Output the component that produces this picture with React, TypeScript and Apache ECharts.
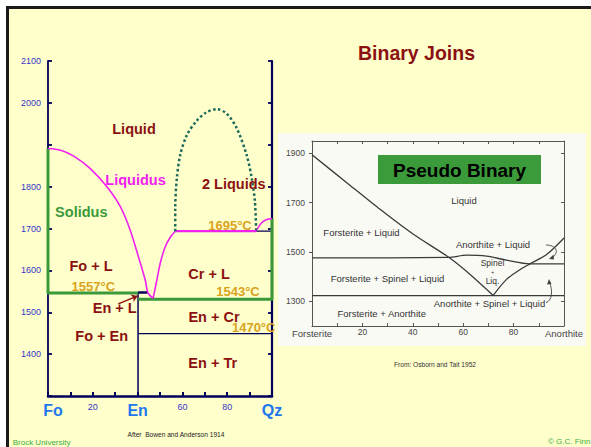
import React, { useEffect, useRef } from "react";
import * as echarts from "echarts";

// ---------- Main diagram: Fo – SiO2 (wt% SiO2, T °C) ----------
const mainXTickLabels: Record<number, string> = { 0: "Fo", 20: "20", 40: "En", 60: "60", 80: "80", 100: "Qz" };
const mainYTickLabels = [1400, 1500, 1600, 1700, 1800, 2000, 2100];

const foLiquidus = [
  [0, 1891], [5.6, 1887], [11.5, 1873], [18.9, 1843], [26.4, 1799], [32.3, 1752],
  [36.7, 1696], [40.4, 1632], [43.4, 1577], [44.6, 1547], [46.9, 1533],
];
const crLiquidusLow = [[46.9, 1533], [48.6, 1577], [50.1, 1617], [52.3, 1656], [54.6, 1679], [56.8, 1693.5]];
const crLiquidusFlat = [[56.8, 1693.5], [92.9, 1693.5]];
const qzLiquidusHigh = [[92.9, 1693.5], [94.5, 1708], [96.1, 1717], [98, 1722], [100, 1724]];
const immiscibilityDome = [
  [56.8, 1693.5], [56.8, 1748], [57.5, 1819], [59.0, 1875], [62.0, 1923], [66.5, 1958],
  [70.9, 1978], [75.4, 1985], [79.8, 1974], [84.3, 1939], [88.7, 1875], [91.0, 1819],
  [92.4, 1763], [92.9, 1696],
];
const solidusUpper = [[0, 1891], [0, 1546], [40.2, 1546]];
const solidusLower = [[40.2, 1531], [100, 1531], [100, 1724]];
const enstatiteLine = [[40.2, 1546], [40.2, 1300]];
const peritecticStep = [[40.2, 1547], [44.5, 1547]];
const tridymiteLine = [[40.2, 1449], [100, 1449]];
const twoLiquidBase = [[92.9, 1693.5], [100, 1693.5]];
const enLArrow = [[31.4, 1520], [40.0, 1539]];

// ---------- Inset: Forsterite – Anorthite (Osborn and Tait 1952) ----------
const insetXTickLabels: Record<number, string> = { 0: "Forsterite", 20: "20", 40: "40", 60: "60", 80: "80", 100: "Anorthite" };
const insetYTickLabels = [1300, 1500, 1700, 1900];
const insetFoLiquidus = [[0, 1894], [13.8, 1781], [27, 1673], [40.2, 1572], [54.1, 1480], [61.4, 1421], [71.9, 1324]];
const insetSpinelBoundary = [[0, 1476], [54.1, 1478], [61.4, 1487], [69.3, 1483], [77.2, 1467], [86.5, 1452], [100, 1452]];
const insetAnLiquidus = [[71.9, 1324], [77.3, 1390], [82.5, 1428], [86.5, 1452], [93.1, 1490], [100, 1557]];
const insetSolidus = [[0, 1323], [100, 1323]];

const NAVY = "#00005a";
const GREEN = "#3a9a3a";
const MAGENTA = "#f020f0";
const DARKRED = "#8b1111";
const GOLD = "#d9a321";
const INK = "#3a3a3a";
const FONT = '"Liberation Sans", Arial, sans-serif';

function lineSeries(data: number[][], xi: number, yi: number, color: string, width: number, extra: any = {}) {
  return {
    type: "line",
    xAxisIndex: xi,
    yAxisIndex: yi,
    data,
    symbol: "none",
    silent: true,
    smooth: extra.smooth ?? false,
    z: extra.z ?? 3,
    lineStyle: { color, width, type: extra.type ?? "solid", cap: "butt", join: "round" },
  };
}

function txt(text: string, x: number, y: number, fill: string, size: number, bold = true, align = "center") {
  return {
    type: "text",
    x,
    y,
    z: 50,
    silent: true,
    style: {
      text,
      fill,
      font: `${bold ? "bold " : ""}${size}px ${FONT}`,
      align,
      verticalAlign: "middle",
    },
  };
}

export default function App() {
  const ref = useRef<HTMLDivElement>(null);
  useEffect(() => {
    if (!ref.current) return;
    const chart = echarts.init(ref.current, undefined, { renderer: "svg" });
    const option: any = {
      animation: false,
      backgroundColor: "#ffffff",
      textStyle: { fontFamily: FONT },
      grid: [
        { left: 48, top: 61, width: 224, height: 335 },
        { left: 312, top: 141, width: 252, height: 185 },
      ],
      xAxis: [
        {
          gridIndex: 0, type: "value", min: 0, max: 100, interval: 10, position: "bottom",
          axisLine: { onZero: false, lineStyle: { color: NAVY, width: 2.5 } },
          axisTick: { inside: true, length: 4, lineStyle: { color: NAVY, width: 2 } },
          splitLine: { show: false },
          axisLabel: {
            margin: 6, showMinLabel: true, showMaxLabel: true,
            formatter: (v: number) => {
              const t = mainXTickLabels[v];
              if (!t) return "";
              if (v === 0) return `{bf|${t}}`;
              return /\d/.test(t) ? `{n|${t}}` : `{b|${t}}`;
            },
            rich: {
              b: { fontSize: 16, fontWeight: "bold", color: "#2277ee", lineHeight: 17, fontFamily: FONT },
              bf: { fontSize: 16, fontWeight: "bold", color: "#2277ee", lineHeight: 17, fontFamily: FONT, padding: [0, 0, 0, 10] },
              n: { fontSize: 9, color: "#3535c8", lineHeight: 9, fontFamily: '"Liberation Sans Narrow", "Liberation Sans", sans-serif' },
            },
          },
        },
        {
          gridIndex: 1, type: "value", min: 0, max: 100, interval: 10, position: "bottom",
          axisLine: { onZero: false, lineStyle: { color: "#555", width: 1 } },
          axisTick: { inside: true, length: 3, lineStyle: { color: "#555", width: 1 } },
          splitLine: { show: false },
          axisLabel: {
            margin: 1, showMinLabel: true, showMaxLabel: true,
            formatter: (v: number) => {
              const t = insetXTickLabels[v];
              if (!t) return "";
              return /\d/.test(t) ? `{n|${t}}` : `{w|${t}}`;
            },
            rich: {
              n: { fontSize: 8.5, color: "#444", lineHeight: 9, fontFamily: FONT },
              w: { fontSize: 9.5, color: "#444", lineHeight: 10, padding: [3, 0, 0, 0], fontFamily: FONT },
            },
          },
        },
        {
          gridIndex: 1, type: "value", min: 0, max: 100, interval: 10, position: "top",
          axisLine: { onZero: false, lineStyle: { color: "#555", width: 1 } },
          axisTick: { inside: true, length: 3, lineStyle: { color: "#555", width: 1 } },
          splitLine: { show: false },
          axisLabel: { show: false },
        },
      ],
      yAxis: [
        {
          gridIndex: 0, type: "value", min: 1300, max: 2100, interval: 100, position: "left",
          axisLine: { onZero: false, lineStyle: { color: NAVY, width: 1.8 } },
          axisTick: { inside: true, length: 4, lineStyle: { color: NAVY, width: 1.8 } },
          splitLine: { show: false },
          axisLabel: {
            margin: 7, showMinLabel: true, showMaxLabel: true,
            color: "#3535c8", fontSize: 9,
            fontFamily: '"Liberation Sans Narrow", "Liberation Sans", sans-serif',
            formatter: (v: number) => (mainYTickLabels.includes(v) ? String(v) : ""),
          },
        },
        {
          gridIndex: 0, type: "value", min: 1300, max: 2100, interval: 100, position: "right",
          axisLine: { onZero: false, lineStyle: { color: NAVY, width: 2.2 } },
          axisTick: { inside: true, length: 4, lineStyle: { color: NAVY, width: 1.8 } },
          splitLine: { show: false },
          axisLabel: { show: false },
        },
        {
          gridIndex: 1, type: "value", min: 1200, max: 1950, interval: 100, position: "left",
          axisLine: { onZero: false, lineStyle: { color: "#555", width: 1 } },
          axisTick: { inside: false, length: 3, customValues: insetYTickLabels, lineStyle: { color: "#555", width: 1 } },
          splitLine: { show: false },
          axisLabel: {
            margin: 7, color: "#444", fontSize: 8.5, customValues: insetYTickLabels,
            formatter: (v: number) => (insetYTickLabels.includes(v) ? String(v) : ""),
          },
        },
        {
          gridIndex: 1, type: "value", min: 1200, max: 1950, interval: 100, position: "right",
          axisLine: { onZero: false, lineStyle: { color: "#555", width: 1 } },
          axisTick: { inside: true, length: 3, customValues: insetYTickLabels, lineStyle: { color: "#555", width: 1 } },
          splitLine: { show: false },
          axisLabel: { show: false },
        },
      ],
      series: [
        lineSeries(enstatiteLine, 0, 0, NAVY, 1.5),
        lineSeries(tridymiteLine, 0, 0, NAVY, 1.2),
        lineSeries(twoLiquidBase, 0, 0, NAVY, 1.2),
        lineSeries(peritecticStep, 0, 0, NAVY, 2.5),
        lineSeries(solidusUpper, 0, 0, GREEN, 3),
        lineSeries(solidusLower, 0, 0, GREEN, 3),
        lineSeries(foLiquidus, 0, 0, MAGENTA, 1.6, { smooth: 0.3, z: 4 }),
        lineSeries(crLiquidusLow, 0, 0, MAGENTA, 1.6, { smooth: 0.3, z: 4 }),
        lineSeries(crLiquidusFlat, 0, 0, MAGENTA, 2.2, { z: 4 }),
        lineSeries(qzLiquidusHigh, 0, 0, MAGENTA, 1.6, { smooth: 0.3, z: 4 }),
        lineSeries(immiscibilityDome, 0, 0, "#1d6b5a", 2.5, { smooth: 0.3, type: "dotted", z: 4 }),
        {
          type: "lines",
          coordinateSystem: "cartesian2d",
          xAxisIndex: 0,
          yAxisIndex: 0,
          silent: true,
          z: 5,
          symbol: ["none", "arrow"],
          symbolSize: 6,
          lineStyle: { color: DARKRED, width: 1.5, opacity: 1 },
          data: [{ coords: enLArrow }],
        },
        lineSeries(insetFoLiquidus, 1, 2, INK, 1.3, { smooth: 0.2 }),
        lineSeries(insetSpinelBoundary, 1, 2, INK, 1.3, { smooth: 0.3 }),
        lineSeries(insetAnLiquidus, 1, 2, INK, 1.3, { smooth: 0.3 }),
        lineSeries(insetSolidus, 1, 2, INK, 1.3),
      ],
      graphic: [
        { type: "rect", z: -20, silent: true, shape: { x: 6, y: 6, width: 585, height: 441 }, style: { fill: "#ffffcc" } },
        { type: "rect", z: -19, silent: true, shape: { x: 6, y: 6, width: 585, height: 3 }, style: { fill: "#1a1a1a" } },
        { type: "rect", z: -19, silent: true, shape: { x: 6, y: 6, width: 3, height: 441 }, style: { fill: "#1a1a1a" } },
        { type: "rect", z: -18, silent: true, shape: { x: 278, y: 133, width: 308, height: 213 }, style: { fill: "#fafaf5" } },
        { type: "rect", z: 40, silent: true, shape: { x: 378, y: 155, width: 163, height: 29 }, style: { fill: "#3b9b3b" } },
        txt("Pseudo Binary", 459.5, 170, "#000000", 19),
        txt("Binary Joins", 416.5, 53, "#8b1111", 19.5),
        // main diagram labels
        txt("Liquid", 134, 128.5, DARKRED, 14.5),
        txt("Liquidus", 135.5, 180, MAGENTA, 14.5),
        txt("2 Liquids", 233.8, 184.3, DARKRED, 14.5),
        txt("Solidus", 81.3, 211.7, GREEN, 14.5),
        txt("1695°C", 230, 225, GOLD, 13),
        txt("Fo + L", 91, 266, DARKRED, 14.5),
        txt("1557°C", 93.3, 286.7, GOLD, 13),
        txt("Cr + L", 209, 274, DARKRED, 14.5),
        txt("1543°C", 238, 291.7, GOLD, 13),
        txt("En + L", 114.7, 308.3, DARKRED, 14.5),
        txt("Fo + En", 101.7, 336, DARKRED, 14.5),
        txt("En + Cr", 214, 317.3, DARKRED, 14.5),
        txt("1470°C", 253.7, 327.3, GOLD, 13),
        txt("En + Tr", 212.7, 363.3, DARKRED, 14.5),
        // inset labels
        txt("Liquid", 464, 200, "#333", 9.5, false),
        txt("Forsterite + Liquid", 361.5, 232.7, "#333", 9.5, false),
        txt("Anorthite + Liquid", 493, 244.3, "#333", 9.5, false),
        txt("Spinel", 492.5, 263.3, "#333", 8.5, false),
        txt("+", 492.5, 272, "#333", 5.5, false),
        txt("Liq.", 492.5, 280.7, "#333", 8.5, false),
        txt("Forsterite + Spinel + Liquid", 387.5, 278, "#333", 9.5, false),
        txt("Anorthite + Spinel + Liquid", 489.5, 303.3, "#333", 9.5, false),
        txt("Forsterite + Anorthite", 381.7, 313.3, "#333", 9.5, false),
        { type: "bezierCurve", z: 45, silent: true, shape: { x1: 546, y1: 245, x2: 552, y2: 258, cpx1: 556, cpy1: 245, cpx2: 560, cpy2: 252 }, style: { stroke: "#444", lineWidth: 0.9, fill: null } },
        { type: "polygon", z: 45, silent: true, shape: { points: [[549, 259], [553.5, 254.5], [554, 259.5]] }, style: { fill: "#444" } },
        { type: "bezierCurve", z: 45, silent: true, shape: { x1: 546, y1: 302.5, x2: 549.5, y2: 282, cpx1: 552, cpy1: 301, cpx2: 553, cpy2: 291 }, style: { stroke: "#444", lineWidth: 0.9, fill: null } },
        { type: "polygon", z: 45, silent: true, shape: { points: [[549, 279], [547, 284.5], [551.5, 284]] }, style: { fill: "#444" } },
        // footer texts
        txt("Brock University", 12.7, 442.7, "#3cae3c", 8, false, "left"),
        txt("After  Bowen and Anderson 1914", 176, 434.3, "#222", 6.6, false),
        txt("From: Osborn and Tait 1952", 394, 364, "#333", 6.6, false, "left"),
        txt("© G.C. Finn", 548, 441.7, "#3cae3c", 8, false, "left"),
      ],
    };
    chart.setOption(option);
    return () => chart.dispose();
  }, []);
  return (
    <div
      ref={ref}
      style={{ position: "fixed", left: 0, top: 0, width: 591, height: 447 }}
    />
  );
}
